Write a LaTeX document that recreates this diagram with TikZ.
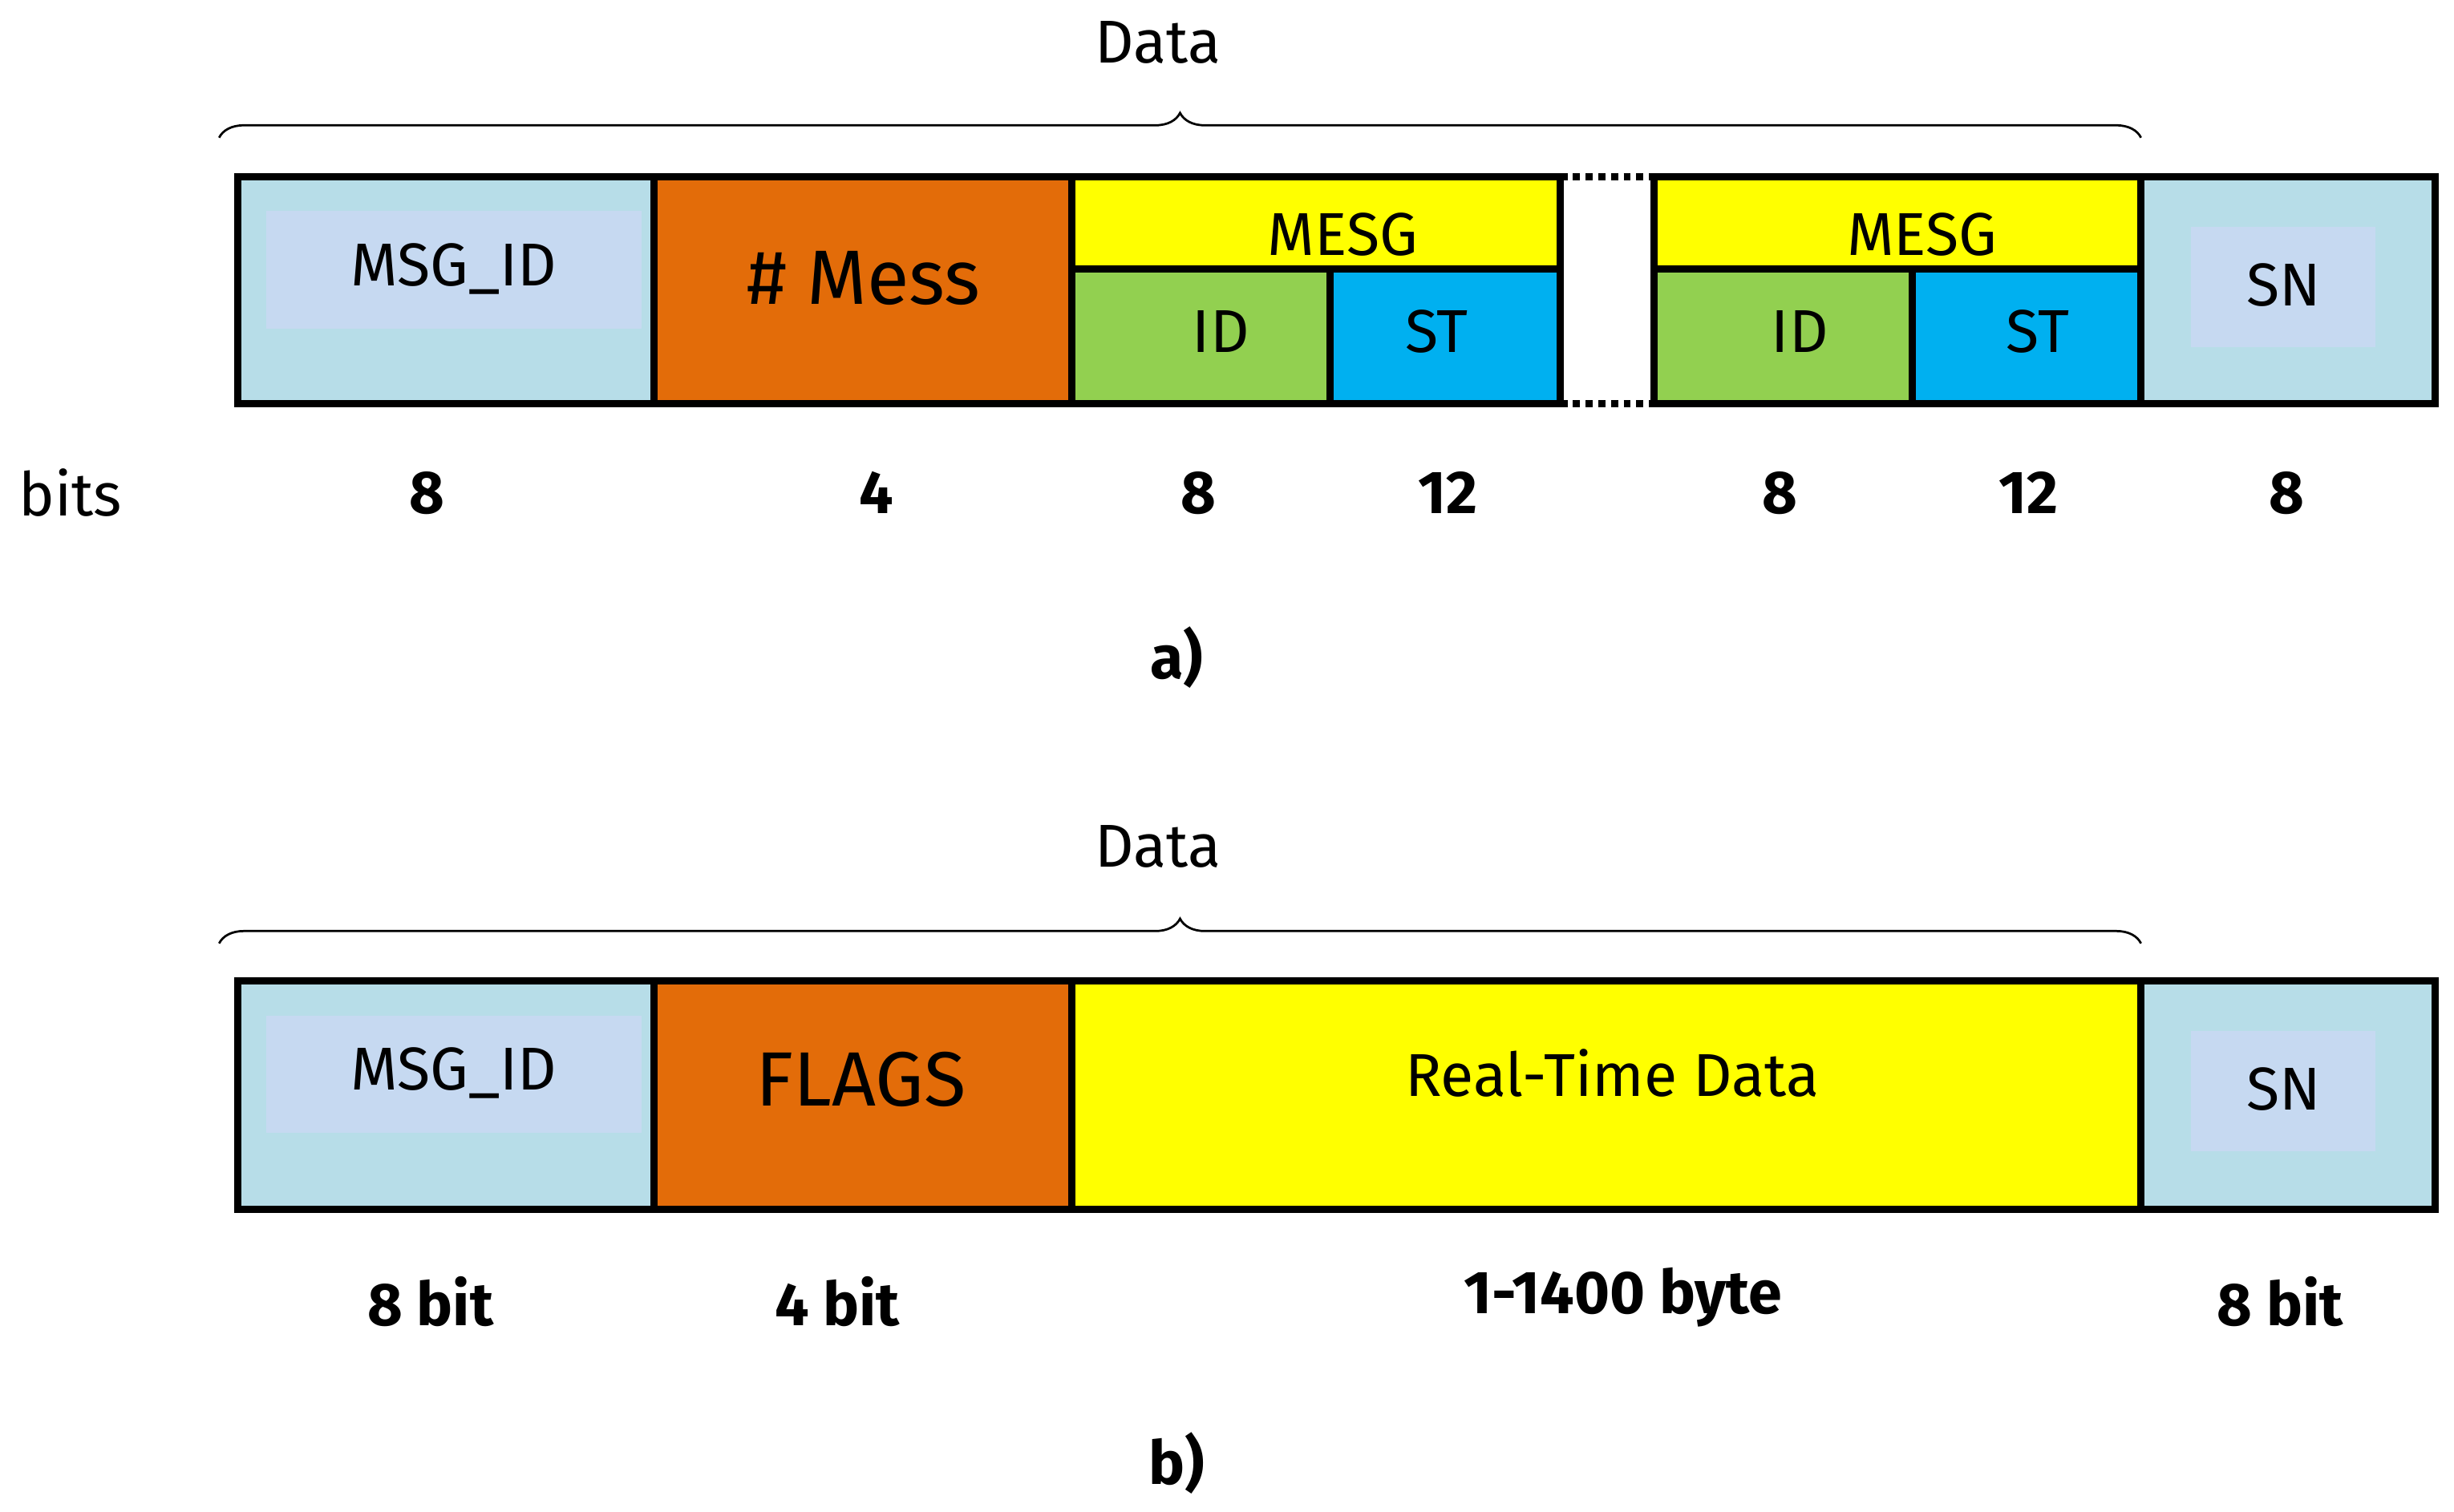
\documentclass[tikz,border=0pt]{standalone}
\usepackage{fontspec}
\setmainfont{Fira Sans}
\usetikzlibrary{decorations.pathreplacing}
\definecolor{lb}{HTML}{B7DDE8}
\definecolor{ib}{HTML}{C6D9F1}
\definecolor{org}{HTML}{E36C09}
\definecolor{yel}{HTML}{FFFF00}
\definecolor{grn}{HTML}{92D050}
\definecolor{cyn}{HTML}{00B0F0}
\tikzset{
 cell/.style={draw=black,line width=2.6pt},
 inner/.style={fill=ib,draw=none},
 lab/.style={font=\fontsize{22}{24}\selectfont},
 big/.style={font=\fontsize{28}{30}\selectfont},
 num/.style={font=\fontsize{22}{24}\selectfont\bfseries},
 brc/.style={decorate,decoration={brace,amplitude=9pt},line width=0.8pt},
}
\begin{document}
\begin{tikzpicture}[x=0.02cm,y=-0.02cm]
\useasboundingbox (0,0) rectangle (1568,966);
% ---------- a ----------
\draw[brc] (140,88) -- coordinate (ba) (1368,88);
\node[lab] (da) at (740,27) {Data};
\fill[lb] (152,113) rectangle (418,258);
\fill[inner] (170,135) rectangle (410,210);
\node[lab] (m1) at (290,172) {MSG\_ID};
\draw[cell] (152,113) rectangle (418,258);
\draw[cell,fill=org] (418,113) rectangle (685,258);
\node[big] (mess) at (552,178) {\# Mess};
\draw[cell,fill=yel] (685,113) rectangle (997,172);
\node[lab] (mg1) at (858,150) {MESG};
\draw[cell,fill=grn] (685,172) rectangle (850,258);
\node[lab] (id1) at (780,212) {ID};
\draw[cell,fill=cyn] (850,172) rectangle (997,258);
\node[lab] (st1) at (918,212) {ST};
\draw[line width=2.6pt,dotted] (997,113) -- (1057,113);
\draw[line width=2.6pt,dotted] (997,258) -- (1057,258);
\draw[cell,fill=yel] (1057,113) rectangle (1368,172);
\node[lab] (mg2) at (1228,150) {MESG};
\draw[cell,fill=grn] (1057,172) rectangle (1222,258);
\node[lab] (id2) at (1150,212) {ID};
\draw[cell,fill=cyn] (1222,172) rectangle (1368,258);
\node[lab] (st2) at (1302,212) {ST};
\fill[lb] (1368,113) rectangle (1556,258);
\fill[inner] (1400,145) rectangle (1518,222);
\node[lab] (sn1) at (1459,182) {SN};
\draw[cell] (1368,113) rectangle (1556,258);
\node[lab] (bits) at (45,315) {bits};
\node[num] at (273,315) {8};
\node[num] at (560,315) {4};
\node[num] at (766,315) {8};
\node[num] at (925,315) {12};
\node[num] at (1137,315) {8};
\node[num] at (1296,315) {12};
\node[num] at (1461,315) {8};
\node[num] (a) at (752,420) {a)};
% ---------- b ----------
\draw[brc] (140,603) -- (1368,603);
\node[lab] (db) at (740,541) {Data};
\fill[lb] (152,627) rectangle (418,773);
\fill[inner] (170,649) rectangle (410,724);
\node[lab] (m2) at (290,686) {MSG\_ID};
\draw[cell] (152,627) rectangle (418,773);
\draw[cell,fill=org] (418,627) rectangle (685,773);
\node[big] (fl) at (550,690) {FLAGS};
\draw[cell,fill=yel] (685,627) rectangle (1368,773);
\node[lab] (rt) at (1030,686) {Real-Time Data};
\fill[lb] (1368,627) rectangle (1556,773);
\fill[inner] (1400,659) rectangle (1518,736);
\node[lab] (sn2) at (1459,696) {SN};
\draw[cell] (1368,627) rectangle (1556,773);
\node[num] at (275,832) {8 bit};
\node[num] at (535,832) {4 bit};
\node[num] at (1037,829) {1-1400 byte};
\node[num] at (1457,832) {8 bit};
\node[num] (b) at (752,935) {b)};
\end{tikzpicture}
\end{document}
